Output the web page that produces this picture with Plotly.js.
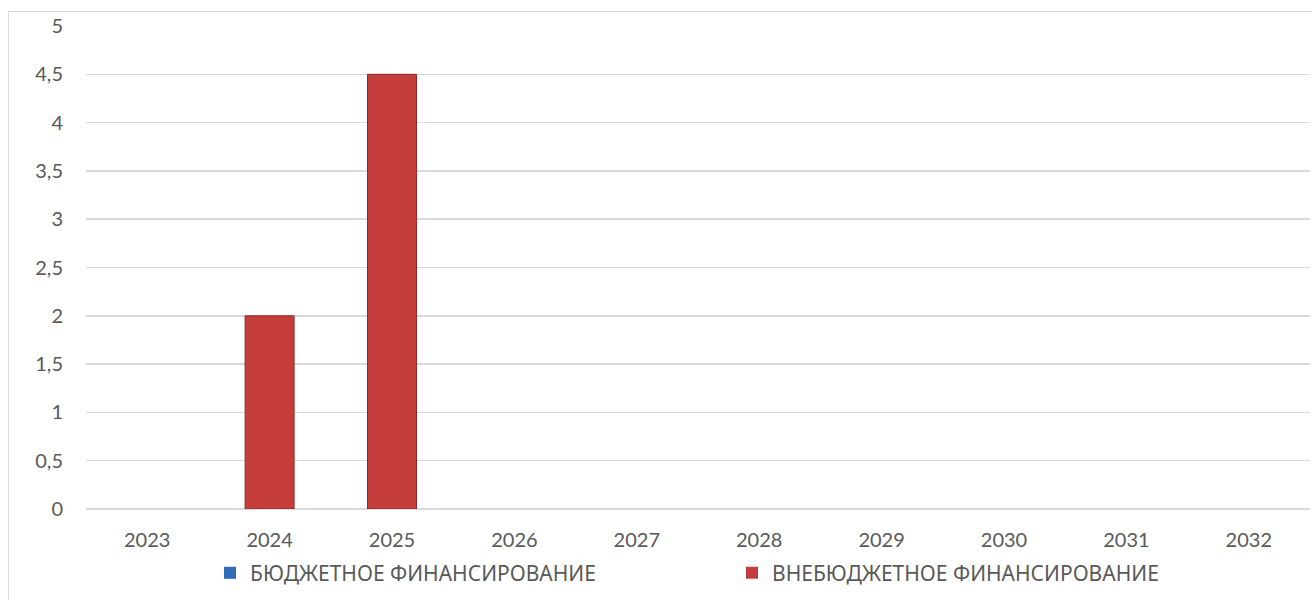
<!DOCTYPE html>
<html>
<head>
<meta charset="utf-8">
<script src="https://cdn.plot.ly/plotly-3.0.1.min.js"></script>
<style>
  html, body { margin: 0; padding: 0; background: #fff; }
  #wrap { position: relative; width: 1312px; height: 600px; overflow: hidden; }
  #chart { width: 1312px; height: 600px; }
  #frame { position: absolute; left: 8px; top: 11px; width: 1310px; height: 600px;
           border-left: 1px solid #d9d9d9; border-top: 1px solid #d9d9d9; pointer-events: none; }
</style>
</head>
<body>
<div id="wrap">
  <div id="chart"></div>
  <div id="frame"></div>
</div>
<script>
const years = ["2023","2024","2025","2026","2027","2028","2029","2030","2031","2032"];
const budget = [0, 0, 0, 0, 0, 0, 0, 0, 0, 0];
const extraBudget = [0, 2, 4.5, 0, 0, 0, 0, 0, 0, 0];
const seriesNames = ["БЮДЖЕТНОЕ ФИНАНСИРОВАНИЕ", "ВНЕБЮДЖЕТНОЕ ФИНАНСИРОВАНИЕ"];
const yTicks = [0, 0.5, 1, 1.5, 2, 2.5, 3, 3.5, 4, 4.5, 5];

const TICKFONT = "Lato, 'Noto Sans', sans-serif";
const LEGFONT = "'Noto Sans', 'Open Sans', sans-serif";

const traces = [
  {
    type: 'bar', x: years, y: budget, name: seriesNames[0], legend: 'legend',
    marker: { color: '#2f6db5', line: { width: 0 } }
  },
  {
    type: 'bar', x: years, y: extraBudget, name: seriesNames[1], legend: 'legend2',
    marker: { color: '#c63e3b',
              line: { color: '#8e2724', width: extraBudget.map(v => v ? 1 : 0) } }
  }
];

const legendBase = {
  orientation: 'h', xref: 'container', yref: 'container',
  xanchor: 'left', y: 0.045, yanchor: 'middle',
  bgcolor: 'rgba(0,0,0,0)', borderwidth: 0,
  font: { family: LEGFONT, size: 21, color: '#595959' }
};

const layout = {
  width: 1312, height: 600,
  margin: { l: 86, r: 2, t: 26, b: 91 },
  paper_bgcolor: '#ffffff', plot_bgcolor: '#ffffff',
  separators: ', ',
  barmode: 'overlay',
  bargap: 0.6,
  showlegend: true,
  font: { family: TICKFONT, size: 20, color: '#595959' },
  xaxis: {
    type: 'category',
    showgrid: false, zeroline: false, showline: false,
    ticks: '', tickfont: { family: TICKFONT, size: 20, color: '#595959' },
    ticklabelstandoff: 17
  },
  yaxis: {
    range: [0, 5], tickvals: yTicks,
    showgrid: true, gridcolor: '#d9d9d9', gridwidth: 1.5,
    zeroline: true, zerolinecolor: '#d9d9d9', zerolinewidth: 1.5,
    showline: false, ticks: '',
    tickfont: { family: TICKFONT, size: 20, color: '#595959' },
    ticklabelstandoff: 22
  },
  legend: Object.assign({}, legendBase, { x: 210 / 1312 }),
  legend2: Object.assign({}, legendBase, { x: 732 / 1312 })
};

Plotly.newPlot('chart', traces, layout, { displayModeBar: false, staticPlot: true });
</script>
</body>
</html>
